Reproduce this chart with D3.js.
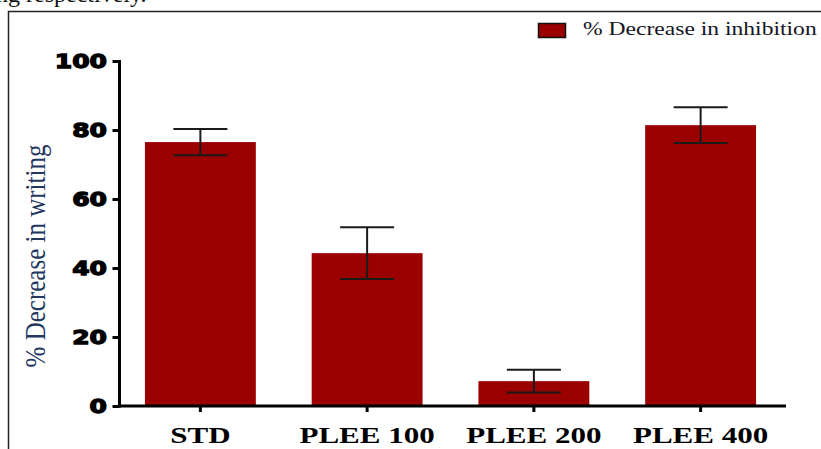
<!DOCTYPE html>
<html>
<head>
<meta charset="utf-8">
<script src="https://d3js.org/d3.v7.min.js"></script>
<style>
  body { margin: 0; background: #fff; }
  svg { display: block; }
</style>
</head>
<body>
<div id="chart"></div>
<script>
// values
const categories = ["STD", "PLEE 100", "PLEE 200", "PLEE 400"];
const means = [76.5, 44.3, 7.2, 81.4];
const errors = [3.8, 7.5, 3.3, 5.2];
const yTicks = [0, 20, 40, 60, 80, 100];
const legendLabel = "% Decrease in inhibition";
const yLabel = "% Decrease in writing";

const W = 821, H = 449;
const barColor = "#9b0000";

const svg = d3.select("#chart")
    .append("svg")
    .attr("width", W)
    .attr("height", H);

// bit of the document text cut off above the figure
svg.append("text")
    .attr("x", -4)
    .attr("y", 2)
    .style("font-family", "'Liberation Serif', 'Times New Roman', serif")
    .style("font-size", "24px")
    .attr("fill", "#111")
    .text("ng respectively.");

// figure frame (only top and left edges visible)
svg.append("path")
    .attr("d", `M8.5,${H} L8.5,11.5 L${W},11.5`)
    .attr("fill", "none")
    .attr("stroke", "#222")
    .attr("stroke-width", 1.5);

const x = d3.scaleBand()
    .domain(categories)
    .range([117, 784])
    .paddingInner(0.335)
    .paddingOuter(0.1675);

const y = d3.scaleLinear()
    .domain([0, 100])
    .range([406, 61]);

// bars
svg.append("g")
    .selectAll("rect")
    .data(categories)
    .join("rect")
    .attr("x", d => x(d))
    .attr("y", (d, i) => y(means[i]))
    .attr("width", x.bandwidth())
    .attr("height", (d, i) => y(0) - y(means[i]))
    .attr("fill", barColor);

// error bars
const capHalf = 27;
const eb = svg.append("g")
    .attr("stroke", "#1a1a1a")
    .attr("stroke-width", 2)
    .selectAll("g")
    .data(categories)
    .join("g")
    .attr("transform", d => `translate(${x(d) + x.bandwidth() / 2},0)`);
eb.append("line")
    .attr("y1", (d, i) => y(means[i] + errors[i]))
    .attr("y2", (d, i) => y(means[i] - errors[i]));
eb.append("line")
    .attr("x1", -capHalf).attr("x2", capHalf)
    .attr("y1", (d, i) => y(means[i] + errors[i]))
    .attr("y2", (d, i) => y(means[i] + errors[i]));
eb.append("line")
    .attr("x1", -capHalf).attr("x2", capHalf)
    .attr("y1", (d, i) => y(means[i] - errors[i]))
    .attr("y2", (d, i) => y(means[i] - errors[i]));

// y axis
const yAxis = svg.append("g")
    .attr("transform", "translate(119.5,0)")
    .call(d3.axisLeft(y).tickValues(yTicks).tickSize(7).tickSizeOuter(0).tickPadding(3));
yAxis.select(".domain").attr("stroke", "#000").attr("stroke-width", 3)
    .attr("d", `M0,${y(100) - 1}V${y(0) + 1.5}`);
yAxis.selectAll(".tick line").attr("stroke", "#000").attr("stroke-width", 3);
yAxis.selectAll(".tick text")
    .attr("transform", "scale(1.25,1)")
    .style("font-family", "'DejaVu Sans', Arial, sans-serif")
    .style("font-weight", "bold")
    .style("font-size", "20px")
    .attr("fill", "#000")
    .attr("stroke", "#000")
    .attr("stroke-width", 1.3);

// x axis
const xAxis = svg.append("g")
    .attr("transform", `translate(0,${y(0)})`)
    .call(d3.axisBottom(x).tickSize(6).tickSizeOuter(0));
xAxis.select(".domain").attr("stroke", "#000").attr("stroke-width", 3)
    .attr("d", "M118,0H786");
xAxis.selectAll(".tick line").attr("stroke", "#000").attr("stroke-width", 3);
xAxis.selectAll(".tick text")
    .attr("y", 21)
    .attr("dy", "0.71em")
    .attr("transform", "scale(1.35,1)")
    .style("font-family", "'Liberation Serif', 'Times New Roman', serif")
    .style("font-weight", "bold")
    .style("font-size", "23px")
    .attr("fill", "#000");

// y axis title
svg.append("text")
    .attr("transform", "translate(35,256) rotate(-90) scale(1,1.15)")
    .attr("text-anchor", "middle")
    .attr("dy", "0.35em")
    .style("font-family", "'Liberation Serif', 'Times New Roman', serif")
    .style("font-size", "25px")
    .attr("fill", "#24375f")
    .text(yLabel);

// legend
const legend = svg.append("g");
legend.append("rect")
    .attr("x", 538.5).attr("y", 23.5)
    .attr("width", 27).attr("height", 14)
    .attr("fill", barColor)
    .attr("stroke", "#111")
    .attr("stroke-width", 1.5);
legend.append("text")
    .attr("transform", "translate(583,35) scale(1.31,1)")
    .style("font-family", "'Liberation Serif', 'Times New Roman', serif")
    .style("font-size", "18px")
    .attr("fill", "#15151f")
    .text(legendLabel);
</script>
</body>
</html>
